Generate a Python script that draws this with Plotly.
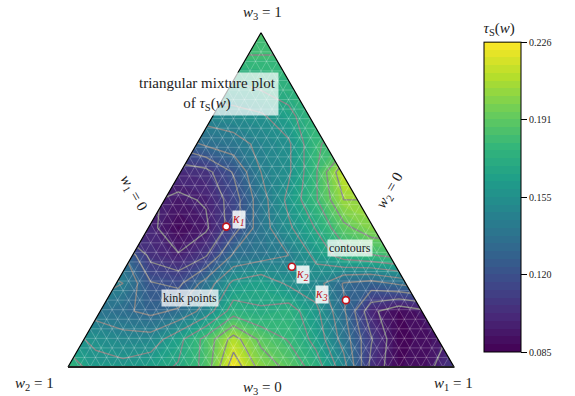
import numpy as np
import plotly.graph_objects as go

# ---------------- data ----------------
# tau_S(w) sampled on a rectangular grid covering the triangle (rows bottom -> top)
tau_row0 = [0.180, 0.160, 0.160, 0.165, 0.170, 0.185, 0.225, 0.200, 0.190, 0.175, 0.150, 0.105, 0.088, 0.092, 0.110]
tau_row1 = [0.160, 0.155, 0.150, 0.150, 0.165, 0.185, 0.210, 0.190, 0.180, 0.165, 0.140, 0.110, 0.087, 0.090, 0.100]
tau_row2 = [0.140, 0.140, 0.135, 0.130, 0.135, 0.150, 0.175, 0.170, 0.175, 0.160, 0.135, 0.100, 0.088, 0.095, 0.105]
tau_row3 = [0.150, 0.150, 0.145, 0.122, 0.118, 0.138, 0.160, 0.165, 0.155, 0.150, 0.132, 0.128, 0.135, 0.140, 0.140]
tau_row4 = [0.140, 0.140, 0.135, 0.105, 0.098, 0.108, 0.135, 0.140, 0.145, 0.160, 0.175, 0.180, 0.185, 0.185, 0.185]
tau_row5 = [0.100, 0.100, 0.100, 0.100, 0.088, 0.095, 0.115, 0.140, 0.155, 0.170, 0.190, 0.200, 0.200, 0.200, 0.200]
tau_row6 = [0.098, 0.098, 0.098, 0.098, 0.095, 0.098, 0.115, 0.140, 0.160, 0.180, 0.205, 0.205, 0.205, 0.205, 0.205]
tau_row7 = [0.105, 0.105, 0.105, 0.105, 0.102, 0.105, 0.122, 0.145, 0.155, 0.180, 0.215, 0.215, 0.215, 0.215, 0.215]
tau_row8 = [0.125, 0.125, 0.125, 0.125, 0.125, 0.135, 0.140, 0.148, 0.155, 0.180, 0.185, 0.185, 0.185, 0.185, 0.185]
tau_row9 = [0.150, 0.150, 0.150, 0.150, 0.150, 0.150, 0.152, 0.155, 0.165, 0.180, 0.180, 0.180, 0.180, 0.180, 0.180]
tau_row10 = [0.165, 0.165, 0.165, 0.165, 0.165, 0.165, 0.165, 0.170, 0.175, 0.175, 0.175, 0.175, 0.175, 0.175, 0.175]
tau_row11 = [0.180, 0.180, 0.180, 0.180, 0.180, 0.180, 0.180, 0.180, 0.180, 0.180, 0.180, 0.180, 0.180, 0.180, 0.180]
tau_row12 = [0.185, 0.185, 0.185, 0.185, 0.185, 0.185, 0.185, 0.185, 0.185, 0.185, 0.185, 0.185, 0.185, 0.185, 0.185]

# kink points as mixture weights (w1, w2, w3)
kink_names = ["κ<sub>1</sub>", "κ<sub>2</sub>", "κ<sub>3</sub>"]
kink_w1 = [0.20, 0.43, 0.62]
kink_w2 = [0.38, 0.27, 0.18]
kink_w3 = [0.42, 0.30, 0.20]

cbar_ticks = [0.085, 0.12025, 0.1555, 0.19075, 0.226]
cbar_ticktext = ["0.085", "0.120", "0.155", "0.191", "0.226"]
tau_min, tau_max = 0.085, 0.226

# ---------------- geometry ----------------
SQ = np.sqrt(3) / 2
tau = [tau_row0, tau_row1, tau_row2, tau_row3, tau_row4, tau_row5, tau_row6,
       tau_row7, tau_row8, tau_row9, tau_row10, tau_row11, tau_row12]
xg = np.linspace(0, 1, len(tau_row0))
yg = np.linspace(0, SQ, len(tau))

def to_xy(w1, w2, w3):
    return w1 + 0.5 * w3, SQ * w3

kx, ky = zip(*[to_xy(a, b, c) for a, b, c in zip(kink_w1, kink_w2, kink_w3)])

SERIF = "Liberation Serif, DejaVu Serif, serif"
fig = go.Figure()

# filled contours
fig.add_trace(go.Contour(
    x=xg, y=yg, z=tau, colorscale="Viridis", zmin=tau_min, zmax=tau_max,
    autocontour=False,
    contours=dict(start=tau_min, end=tau_max, size=(tau_max - tau_min) / 40,
                  coloring="fill", showlines=False),
    line=dict(width=0, smoothing=0), hoverinfo="skip",
    colorbar=dict(
        x=484 / 575, xanchor="left", y=1 - 352 / 396, yanchor="bottom",
        xpad=0, ypad=0,
        len=333 / 396, lenmode="fraction", thickness=37, thicknessmode="pixels",
        outlinecolor="black", outlinewidth=1,
        tickmode="array", tickvals=cbar_ticks, ticktext=cbar_ticktext,
        ticks="outside", ticklen=6, tickcolor="black", tickwidth=1,
        tickfont=dict(family=SERIF, size=10, color="#222"),
        title=dict(text="<i>τ</i><sub>S</sub>(<i>w</i>)", side="top",
                   font=dict(family=SERIF, size=15, color="#222")),
    ),
))
# contour lines
fig.add_trace(go.Contour(
    x=xg, y=yg, z=tau, showscale=False, autocontour=False,
    contours=dict(start=0.097, end=0.221, size=0.012, coloring="none"),
    line=dict(color="rgb(135,135,135)", width=1.4, smoothing=0),
    hoverinfo="skip",
))

# white masks outside the triangle
fig.add_trace(go.Scatter(x=[0, 0.5, 0.5, -0.15, -0.15, 0], y=[0, SQ, 1.0, 1.0, 0, 0],
                         fill="toself", fillcolor="white", mode="lines",
                         line=dict(width=0, color="white"), hoverinfo="skip", showlegend=False))
fig.add_trace(go.Scatter(x=[1, 0.5, 0.5, 1.07, 1.07, 1], y=[0, SQ, 1.0, 1.0, 0, 0],
                         fill="toself", fillcolor="white", mode="lines",
                         line=dict(width=0, color="white"), hoverinfo="skip", showlegend=False))

# triangular mesh
n = 35
mx, my = [], []
for k in range(1, n):
    t = k / n
    mx += [t / 2, 1 - t / 2, None]; my += [SQ * t, SQ * t, None]
    mx += [t, t + (1 - t) / 2, None]; my += [0, SQ * (1 - t), None]
    mx += [t, t / 2, None]; my += [0, SQ * t, None]
fig.add_trace(go.Scatter(x=mx, y=my, mode="lines",
                         line=dict(color="rgba(255,255,255,0.28)", width=0.8),
                         hoverinfo="skip", showlegend=False))

# outline
fig.add_trace(go.Scatter(x=[0, 1, 0.5, 0], y=[0, 0, SQ, 0], mode="lines",
                         line=dict(color="black", width=1.2), hoverinfo="skip", showlegend=False))
fig.add_trace(go.Scatter(x=[0, 1], y=[0, 0], mode="lines",
                         line=dict(color="#222", width=2.2), hoverinfo="skip", showlegend=False))

# kink points
fig.add_trace(go.Scatter(x=kx, y=ky, mode="markers",
                         marker=dict(size=7, color="white", line=dict(color="#c0141c", width=1.6)),
                         hoverinfo="skip", showlegend=False))

ann = []
def lab(px, py, text, size=15, angle=0, **kw):
    d = dict(x=px / 575, y=1 - py / 396, xref="paper", yref="paper", text=text,
             showarrow=False, textangle=angle, xanchor="center", yanchor="middle",
             font=dict(family=SERIF, size=size, color="#222"))
    d.update(kw)
    ann.append(d)

lab(262, 13, "<i>w</i><sub>3</sub> = 1")
lab(34, 384, "<i>w</i><sub>2</sub> = 1")
lab(453, 384, "<i>w</i><sub>1</sub> = 1")
lab(262, 388, "<i>w</i><sub>3</sub> = 0")
lab(133, 193, "<i>w</i><sub>1</sub> = 0", angle=60)
lab(390, 191, "<i>w</i><sub>2</sub> = 0", angle=-60)

lab(207, 94, "triangular mixture plot<br>of <i>τ</i><sub>S</sub>(<i>w</i>)",
    bgcolor="rgba(255,255,255,0.72)", borderpad=2)
lab(190, 298, "kink points", size=12, bgcolor="rgba(255,255,255,0.75)", borderpad=1)
lab(350, 248, "contours", size=12, bgcolor="rgba(255,255,255,0.75)", borderpad=1)

offs = [(13, 7), (11, -8), (-24, 6)]
for (x0, y0), name, (dx, dy) in zip(zip(kx, ky), kink_names, offs):
    ann.append(dict(x=x0, y=y0, xref="x", yref="y", text="<i>" + name + "</i>",
                    showarrow=False, xshift=dx, yshift=dy, xanchor="center", yanchor="middle",
                    bgcolor="rgba(255,255,255,0.85)", borderpad=0,
                    font=dict(family=SERIF, size=14, color="#c0141c")))

fig.update_layout(
    width=575, height=396, margin=dict(l=0, r=0, t=0, b=0, autoexpand=False),
    paper_bgcolor="white", plot_bgcolor="white", showlegend=False,
    xaxis=dict(visible=False, range=[-68 / 386, 507 / 386], fixedrange=True),
    yaxis=dict(visible=False, range=[-29 / 386, 367 / 386], fixedrange=True),
    annotations=ann,
)
fig.write_html("out.html", config={"displayModeBar": False},
               post_script="document.body.style.margin='0';document.body.style.overflow='hidden';")
